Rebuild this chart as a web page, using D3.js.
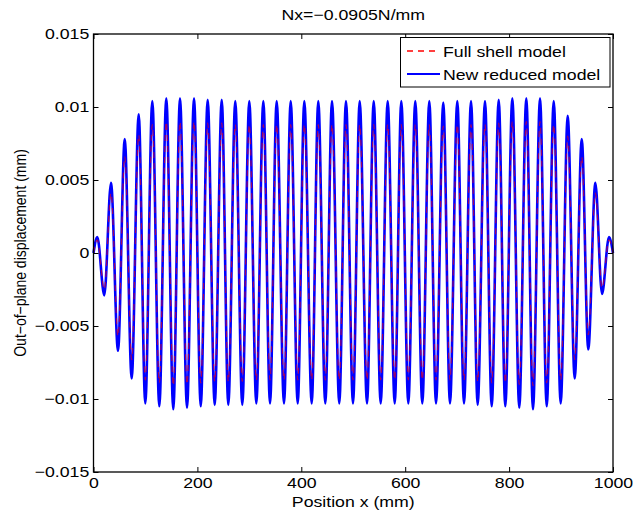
<!DOCTYPE html>
<html>
<head>
<meta charset="utf-8">
<script src="https://cdn.jsdelivr.net/npm/d3@7"></script>
<style>
body { margin: 0; background: #fff; }
text { font-family: "Liberation Sans", Arial, Helvetica, sans-serif; fill: #000; }
</style>
</head>
<body>
<svg id="chart" width="633" height="518"></svg>
<script>
// axis ticks
const xTicks = [0, 200, 400, 600, 800, 1000];
const yTicks = [-0.015, -0.01, -0.005, 0, 0.005, 0.01, 0.015];
const yTickLabels = ["\u22120.015", "\u22120.01", "\u22120.005", "0", "0.005", "0.01", "0.015"];

// positions (mm) of the curve's turning points (ends at 0 and 1000)
const posX = [0, 7.3, 20.8, 33.7, 47.2, 60.1, 73.5, 87.0, 99.7, 113.2, 126.7, 140.1, 153.6, 166.5, 180.0,
  193.5, 206.4, 219.8, 233.3, 246.8, 259.5, 272.9, 286.4, 299.9, 313.4, 326.9, 339.8, 352.6, 366.7, 379.6,
  393.1, 405.8, 420.0, 432.7, 446.2, 459.1, 473.1, 486.0, 499.5, 512.4, 526.5, 539.4, 552.8, 566.3, 579.8,
  592.5, 606.0, 619.4, 632.9, 646.4, 659.3, 673.3, 686.2, 700.3, 713.2, 726.7, 739.5, 753.6, 766.5, 780.0,
  792.7, 806.2, 819.6, 833.1, 846.0, 859.5, 872.4, 885.9, 899.3, 912.8, 926.3, 939.8, 952.4, 966.0, 978.8,
  992.3, 1000];

// New reduced model (blue) displacement at those points
const reducedModel = [0, 0.0011, -0.0029, 0.0048, -0.0067, 0.0078, -0.0086, 0.0095, -0.0103, 0.0104, -0.0105,
  0.0106, -0.0107, 0.0106, -0.0106, 0.0106, -0.0105, 0.0105, -0.0104, 0.0105, -0.0104, 0.0104, -0.0104,
  0.0104, -0.0103, 0.0104, -0.0103, 0.0104, -0.0103, 0.0104, -0.0103, 0.0104, -0.0103, 0.0104, -0.0103,
  0.0104, -0.0103, 0.0104, -0.0103, 0.0104, -0.0103, 0.0104, -0.0103, 0.0104, -0.0103, 0.0104, -0.0103,
  0.0104, -0.0103, 0.0104, -0.0103, 0.0103, -0.0103, 0.0104, -0.0103, 0.0104, -0.0104, 0.0104, -0.0105,
  0.0105, -0.0105, 0.0106, -0.0106, 0.0106, -0.0107, 0.0106, -0.0105, 0.0104, -0.0103, 0.0094, -0.0086,
  0.0078, -0.0066, 0.0048, -0.0028, 0.0011, 0];

// Full shell model (red dashed) displacement at those points
const fullShell = [0, 0.0009, -0.0025, 0.0041, -0.0057, 0.0066, -0.0073, 0.0081, -0.0087, 0.0088, -0.0089,
  0.0090, -0.0091, 0.0090, -0.0090, 0.0090, -0.0089, 0.0089, -0.0088, 0.0089, -0.0088, 0.0088, -0.0088,
  0.0088, -0.0087, 0.0088, -0.0087, 0.0088, -0.0087, 0.0088, -0.0087, 0.0088, -0.0087, 0.0088, -0.0087,
  0.0088, -0.0087, 0.0088, -0.0087, 0.0088, -0.0087, 0.0088, -0.0087, 0.0088, -0.0087, 0.0088, -0.0087,
  0.0088, -0.0087, 0.0088, -0.0087, 0.0087, -0.0087, 0.0088, -0.0087, 0.0088, -0.0088, 0.0088, -0.0089,
  0.0089, -0.0089, 0.0090, -0.0090, 0.0090, -0.0091, 0.0090, -0.0089, 0.0088, -0.0087, 0.0080, -0.0073,
  0.0066, -0.0056, 0.0041, -0.0024, 0.0009, 0];

const seriesNames = ["Full shell model", "New reduced model"];
const seriesColors = ["#ff0000", "#0000ff"];

const svg = d3.select('#chart');
const mLeft = 93.5, mRight = 613, mTop = 34, mBottom = 472;
const stretch = 'scale(1.18,1)';

let x = d3.scaleLinear().domain([0, 1000]).range([mLeft, mRight]);
let y = d3.scaleLinear().domain([-0.015, 0.015]).range([mBottom, mTop]);

let line = d3.line()
  .x(d => x(d[0]))
  .y(d => y(d[1]))
  .curve(d3.curveMonotoneX);

//curves: blue solid, red dashes showing through on top
let plot = svg.append('g');
plot.append('path')
  .datum(d3.zip(posX, reducedModel))
  .attr('d', line)
  .style('fill', 'none')
  .style('stroke', seriesColors[1])
  .style('stroke-width', 2.6);
plot.append('path')
  .datum(d3.zip(posX, fullShell))
  .attr('d', line)
  .style('fill', 'none')
  .style('stroke', seriesColors[0])
  .style('stroke-width', 1.2)
  .style('stroke-opacity', 0.6)
  .style('stroke-dasharray', '6,5');

//axes, ticks pointing inwards on all four sides
svg.append('g')
  .attr('transform', 'translate(0,' + mBottom + ')')
  .call(d3.axisBottom(x).tickValues(xTicks).tickFormat(d3.format('d')).tickSizeInner(-5).tickSizeOuter(0).tickPadding(5));
svg.append('g')
  .attr('transform', 'translate(' + mLeft + ',0)')
  .call(d3.axisLeft(y).tickValues(yTicks).tickFormat((d, i) => yTickLabels[i]).tickSizeInner(-5).tickSizeOuter(0).tickPadding(3.6));
svg.append('g')
  .attr('transform', 'translate(0,' + mTop + ')')
  .call(d3.axisTop(x).tickValues(xTicks).tickFormat('').tickSizeInner(-5).tickSizeOuter(0));
svg.append('g')
  .attr('transform', 'translate(' + mRight + ',0)')
  .call(d3.axisRight(y).tickValues(yTicks).tickFormat('').tickSizeInner(-5).tickSizeOuter(0));

svg.selectAll('.domain').remove();
svg.selectAll('.tick line').style('stroke', '#000').style('stroke-width', 1);
svg.selectAll('.tick text')
  .style('font-size', '15px')
  .style('font-family', '"Liberation Sans", Arial, sans-serif')
  .attr('transform', stretch);

svg.append('rect')
  .attr('x', mLeft)
  .attr('y', mTop)
  .attr('width', mRight - mLeft)
  .attr('height', mBottom - mTop)
  .style('fill', 'none')
  .style('stroke', '#000')
  .style('stroke-width', 1.3);

//title and axis labels
svg.append('text')
  .attr('transform', 'translate(' + ((mLeft + mRight) / 2) + ',20) ' + stretch)
  .attr('text-anchor', 'middle')
  .style('font-size', '15px')
  .text('Nx=\u22120.0905N/mm');

svg.append('text')
  .attr('transform', 'translate(' + ((mLeft + mRight) / 2) + ',507) ' + stretch)
  .attr('text-anchor', 'middle')
  .style('font-size', '15px')
  .text('Position x (mm)');

svg.append('text')
  .attr('transform', 'translate(26,' + ((mTop + mBottom) / 2) + ') scale(1.18,1) rotate(-90)')
  .attr('text-anchor', 'middle')
  .style('font-size', '14px')
  .text('Out\u2212of\u2212plane displacement (mm)');

//legend
let legend = svg.append('g');
legend.append('rect')
  .attr('x', 400.5)
  .attr('y', 37.5)
  .attr('width', 209.5)
  .attr('height', 49.5)
  .style('fill', '#fff')
  .style('stroke', '#000')
  .style('stroke-width', 1);

let legendItems = legend.selectAll('g.legendItem')
  .data(seriesNames)
  .join('g')
  .classed('legendItem', true)
  .attr('transform', (d, i) => 'translate(407,' + (51 + i * 23) + ')');

legendItems.append('line')
  .attr('x1', 0)
  .attr('x2', 33)
  .style('stroke', (d, i) => seriesColors[i])
  .style('stroke-width', (d, i) => i ? 2 : 1.4)
  .style('stroke-dasharray', (d, i) => i ? null : '6,5');

legendItems.append('text')
  .text(d => d)
  .attr('transform', 'translate(36,5.5) ' + stretch)
  .style('font-size', '15px');
</script>
</body>
</html>
